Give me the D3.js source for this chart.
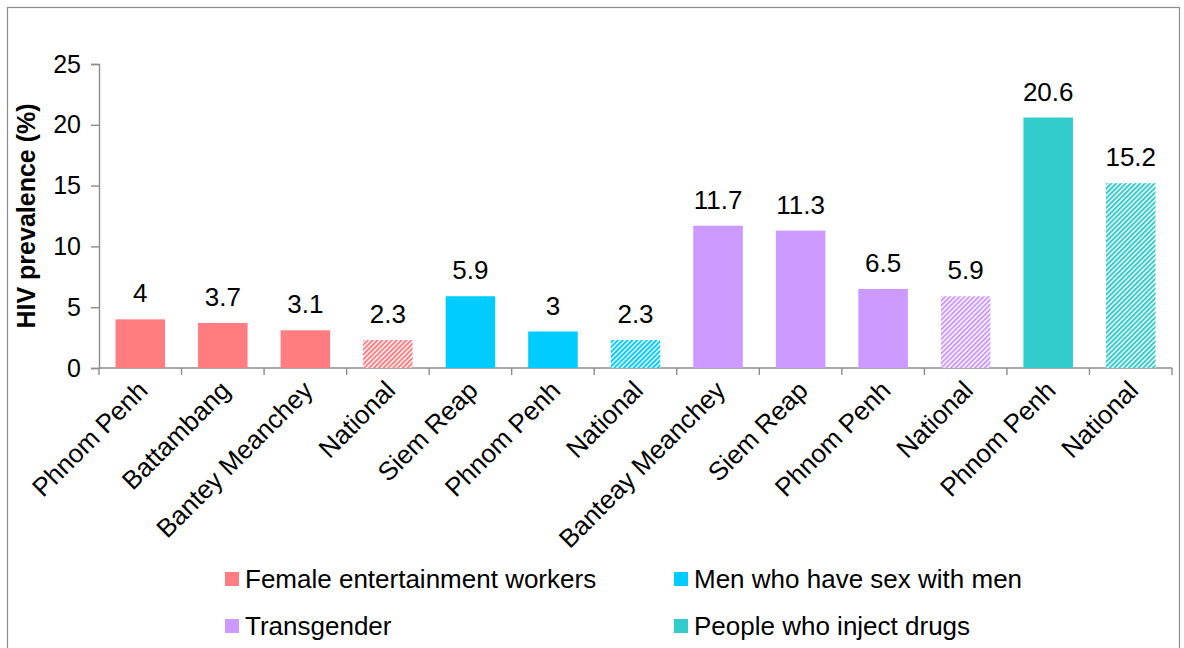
<!doctype html>
<html lang="en">
  <head>
    <meta charset="utf-8">
    <title>HIV prevalence</title>
    <style>
      body { margin: 0; background: #fff; }
      text { font-family: "Liberation Sans", Arial, sans-serif; }
    </style>
  </head>
  <body>
    <script src="https://d3js.org/d3.v7.min.js"></script>
    <script>
      // data
      var labels = ['Phnom Penh', 'Battambang', 'Bantey Meanchey', 'National', 'Siem Reap', 'Phnom Penh',
                    'National', 'Banteay Meanchey', 'Siem Reap', 'Phnom Penh', 'National', 'Phnom Penh', 'National'];
      var values = [4, 3.7, 3.1, 2.3, 5.9, 3, 2.3, 11.7, 11.3, 6.5, 5.9, 20.6, 15.2];
      var groupOf = [0, 0, 0, 0, 1, 1, 1, 2, 2, 2, 2, 3, 3];
      var isNational = [false, false, false, true, false, false, true, false, false, false, true, false, true];
      var groups = ['Female entertainment workers', 'Men who have sex with men', 'Transgender', 'People who inject drugs'];
      var groupColors = ['#ff7c80', '#00ccff', '#cc99ff', '#33cccc'];
      var yTicks = [0, 5, 10, 15, 20, 25];

      var W = 1184, H = 648;
      var plotLeft = 99, plotRight = 1172, plotTop = 64, plotBottom = 368;
      var axisColor = '#8c8c8c';

      var svg = d3.select('body').append('svg')
          .attr('width', W)
          .attr('height', H);

      // hatch patterns for the national bars
      var defs = svg.append('defs');
      groupColors.forEach(function(c, i) {
        var p = defs.append('pattern')
            .attr('id', 'hatch' + i)
            .attr('patternUnits', 'userSpaceOnUse')
            .attr('width', 3.4)
            .attr('height', 10)
            .attr('patternTransform', 'rotate(45)');
        p.append('rect').attr('width', 3.4).attr('height', 10).attr('fill', '#fff');
        p.append('rect').attr('width', 2).attr('height', 10).attr('fill', c);
      });

      // outer frame
      svg.append('rect')
          .attr('x', 7.5).attr('y', 7.5)
          .attr('width', 1172).attr('height', 660)
          .attr('fill', 'none')
          .attr('stroke', axisColor)
          .attr('stroke-width', 1.2);

      var x = d3.scaleBand()
          .domain(d3.range(labels.length))
          .range([plotLeft, plotRight])
          .paddingInner(0.4)
          .paddingOuter(0.2);

      var y = d3.scaleLinear().domain([0, 25]).range([plotBottom, plotTop]);

      // y axis
      var yAxis = svg.append('g')
          .attr('transform', 'translate(' + plotLeft + ',0)')
          .call(d3.axisLeft(y).tickValues(yTicks).tickSize(8).tickPadding(10));
      yAxis.selectAll('path, line').attr('stroke', axisColor).attr('stroke-width', 1.4);
      yAxis.selectAll('text').attr('font-size', 25).attr('fill', '#000')
          .attr('font-family', '"Liberation Sans", Arial, sans-serif');

      // x axis with ticks between categories
      var step = x.step();
      svg.append('line')
          .attr('x1', plotLeft).attr('x2', plotRight)
          .attr('y1', plotBottom).attr('y2', plotBottom)
          .attr('stroke', axisColor).attr('stroke-width', 1.4);
      svg.selectAll('.xtick')
          .data(d3.range(labels.length + 1))
          .enter().append('line')
          .attr('class', 'xtick')
          .attr('x1', function(i) { return plotLeft + i * step; })
          .attr('x2', function(i) { return plotLeft + i * step; })
          .attr('y1', plotBottom).attr('y2', plotBottom + 7)
          .attr('stroke', axisColor).attr('stroke-width', 1.4);

      svg.selectAll('.xlabel')
          .data(labels)
          .enter().append('text')
          .attr('class', 'xlabel')
          .attr('font-size', 26)
          .attr('text-anchor', 'end')
          .attr('transform', function(d, i) {
            return 'translate(' + (x(i) + x.bandwidth() / 2 + 9) + ',' + (plotBottom + 24) + ') rotate(-45)';
          })
          .text(function(d) { return d; });

      // bars
      svg.selectAll('.bar')
          .data(values)
          .enter().append('rect')
          .attr('class', 'bar')
          .attr('x', function(d, i) { return x(i); })
          .attr('width', x.bandwidth())
          .attr('y', function(d) { return y(d); })
          .attr('height', function(d) { return plotBottom - y(d); })
          .attr('fill', function(d, i) {
            return isNational[i] ? 'url(#hatch' + groupOf[i] + ')' : groupColors[groupOf[i]];
          });

      svg.selectAll('.val')
          .data(values)
          .enter().append('text')
          .attr('class', 'val')
          .attr('x', function(d, i) { return x(i) + x.bandwidth() / 2; })
          .attr('y', function(d) { return y(d) - 17; })
          .attr('text-anchor', 'middle')
          .attr('font-size', 26)
          .text(function(d) { return d; });

      // y axis title
      svg.append('text')
          .attr('transform', 'translate(35,' + (plotBottom + plotTop) / 2 + ') rotate(-90)')
          .attr('text-anchor', 'middle')
          .attr('font-size', 25)
          .attr('font-weight', 'bold')
          .text('HIV prevalence (%)');

      // legend
      var legend = svg.selectAll('.leg')
          .data(groups)
          .enter().append('g')
          .attr('class', 'leg')
          .attr('transform', function(d, i) {
            return 'translate(' + (i % 2 ? 674 : 225) + ',' + (i < 2 ? 579 : 626) + ')';
          });
      legend.append('rect')
          .attr('x', 0).attr('y', -7)
          .attr('width', 14).attr('height', 14)
          .attr('fill', function(d, i) { return groupColors[i]; });
      legend.append('text')
          .attr('x', 20).attr('y', 9)
          .attr('font-size', 26)
          .text(function(d) { return d; });
    </script>
  </body>
</html>
